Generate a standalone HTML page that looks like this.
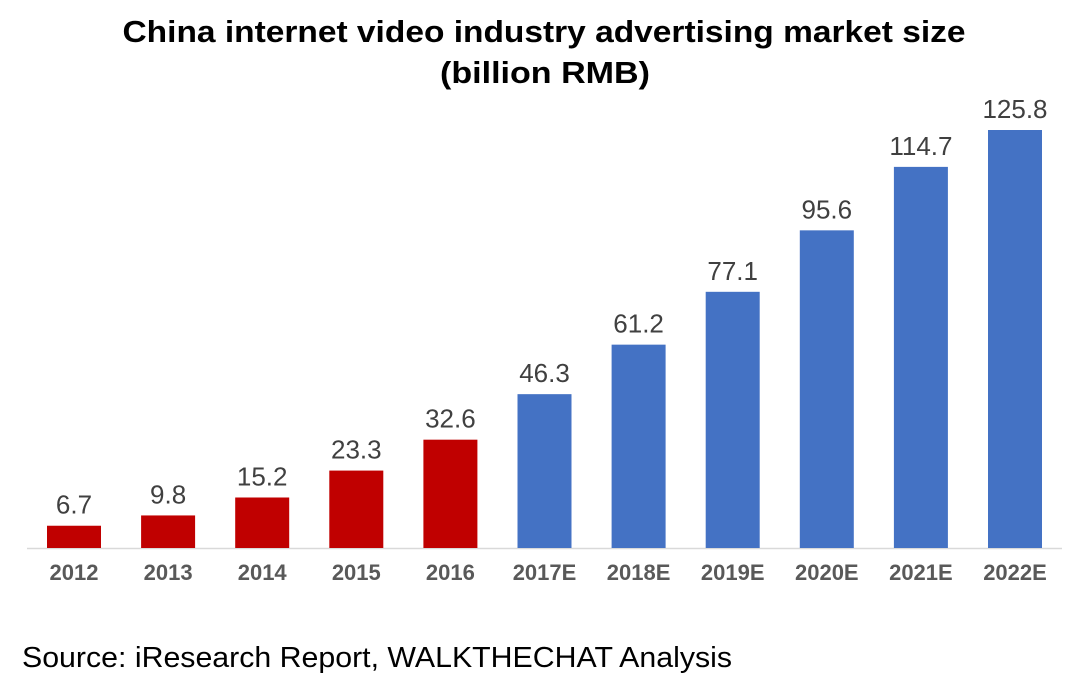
<!DOCTYPE html>
<html><head><meta charset="utf-8"><style>
body{margin:0;background:#fff;}
svg{display:block;font-family:"Liberation Sans",sans-serif;}
</style></head><body>
<svg id="chart" width="1080" height="692" viewBox="0 0 1080 692">
<text x="544" y="42" text-anchor="middle" font-size="31" font-weight="bold" fill="#000" textLength="843" lengthAdjust="spacingAndGlyphs">China internet video industry advertising market size</text>
<text x="545" y="83" text-anchor="middle" font-size="31" font-weight="bold" fill="#000" textLength="210" lengthAdjust="spacingAndGlyphs">(billion RMB)</text>
<line x1="27" y1="548.5" x2="1062" y2="548.5" stroke="#d9d9d9" stroke-width="1.5"/>
<g id="bars"></g>
<text x="22" y="667" font-size="29" fill="#000" textLength="710" lengthAdjust="spacingAndGlyphs">Source: iResearch Report, WALKTHECHAT Analysis</text>
</svg>
<script>
const categories=["2012","2013","2014","2015","2016","2017E","2018E","2019E","2020E","2021E","2022E"];
const values=[6.7,9.8,15.2,23.3,32.6,46.3,61.2,77.1,95.6,114.7,125.8];
const labels=["6.7","9.8","15.2","23.3","32.6","46.3","61.2","77.1","95.6","114.7","125.8"];
const estimated=[false,false,false,false,false,true,true,true,true,true,true];
const NS="http://www.w3.org/2000/svg";
const g=document.getElementById('bars');
const base=548,scale=(548-130)/125.8;
function x(i){return 74+i*94.1;}
function y(v){return base-v*scale;}
categories.forEach((c,i)=>{
  const r=document.createElementNS(NS,'rect');
  r.setAttribute('x',x(i)-27);r.setAttribute('width',54);
  r.setAttribute('y',y(values[i]));r.setAttribute('height',base-y(values[i]));
  r.setAttribute('fill',estimated[i]?'#4472c4':'#c00000');
  
  
  g.appendChild(r);
  const t=document.createElementNS(NS,'text');
  t.setAttribute('x',x(i));t.setAttribute('y',y(values[i])-12);
  t.setAttribute('text-anchor','middle');t.setAttribute('font-size','26');t.setAttribute('fill','#404040');
  t.textContent=labels[i];
  
  
  g.appendChild(t);
  const l=document.createElementNS(NS,'text');
  l.setAttribute('x',x(i));l.setAttribute('y',580);
  l.setAttribute('text-anchor','middle');l.setAttribute('font-size','22');l.setAttribute('font-weight','bold');l.setAttribute('fill','#595959');
  l.textContent=c;
  
  
  g.appendChild(l);
});
</script>
</body></html>
